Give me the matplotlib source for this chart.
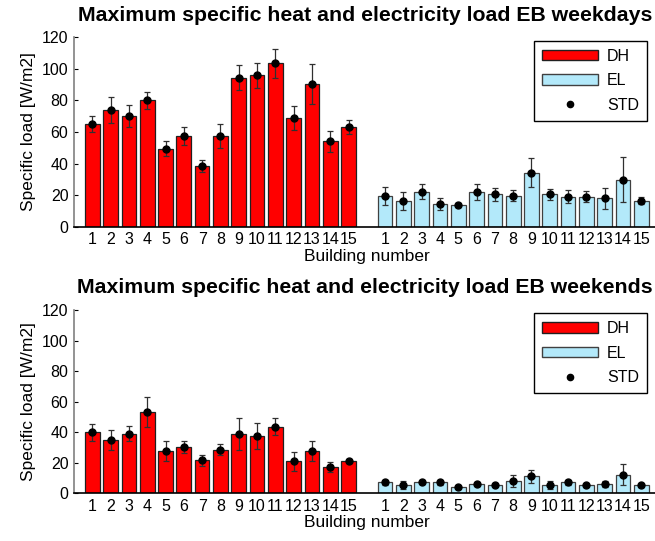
import numpy as np
import matplotlib.pyplot as plt
from matplotlib.patches import Patch
from matplotlib.lines import Line2D

plt.rcParams['font.family'] = ['Liberation Sans', 'DejaVu Sans']

buildings = list(range(1, 16))

# weekdays
dh_wd = [65, 74, 70, 80, 49.5, 57.5, 38.5, 57.5, 94.5, 96, 103.5, 69, 90.5, 54, 63]
dh_wd_std = [5, 8, 7, 5.5, 5, 5.5, 4, 7.5, 8, 8, 9, 7.5, 12.5, 6.5, 4.5]
el_wd = [19.5, 16.3, 22.2, 14.6, 13.8, 22.2, 20.5, 19.7, 34.3, 20.5, 19, 19, 18, 29.8, 16.5]
el_wd_std = [5.8, 5.7, 4.8, 3.8, 1.5, 5, 4.3, 3.5, 9.3, 3.3, 4, 3.6, 6.5, 14.4, 2.2]

# weekends
dh_we = [40, 35, 39, 53.3, 28, 30.4, 21.7, 28.7, 39.1, 37.4, 43.7, 21.1, 27.8, 17.4, 20.9]
dh_we_std = [5.6, 6.6, 4.9, 9.6, 6.6, 4, 3.6, 3.3, 10.4, 8.4, 5.4, 6.3, 6.7, 3.2, 1.3]
el_we = [7.2, 5.4, 7.2, 7.2, 4.3, 6.3, 5.4, 8, 11.3, 5.4, 7.2, 5.4, 6.3, 12.2, 5.4]
el_we_std = [1.5, 2.7, 1.3, 1.5, 0.7, 1.3, 0.8, 4.1, 4.2, 2.7, 1.8, 1, 1.8, 7, 1]

red = '#ff0000'
blue = '#b3e9fa'

x_dh = np.array(buildings)
x_el = np.array(buildings) + 16

fig = plt.figure(figsize=(6.55, 5.41), dpi=100)
ax1 = fig.add_axes([0.113, 0.581, 0.894, 0.350])
ax2 = fig.add_axes([0.113, 0.088, 0.894, 0.339])


def panel(ax, dh, dh_s, el, el_s, title):
    ax.bar(x_dh, dh, width=0.8, color=red, edgecolor='#202020', linewidth=0.9)
    ax.bar(x_el, el, width=0.8, color=blue, edgecolor='#404040', linewidth=0.9)
    for xx, v, s in [(x_dh, dh, dh_s), (x_el, el, el_s)]:
        ax.errorbar(xx, v, yerr=s, fmt='o', color='black', ecolor='#303030',
                    elinewidth=0.9, capsize=2.5, capthick=0.9, markersize=5)
    ax.set_xlim(0, 32)
    ax.set_ylim(0, 120)
    ax.set_yticks(range(0, 121, 20))
    ax.set_xticks(list(x_dh) + list(x_el))
    ax.set_xticklabels([str(b) for b in buildings] * 2)
    ax.tick_params(axis='x', length=0, labelsize=11.5, pad=4)
    ax.tick_params(axis='y', direction='in', length=3, labelsize=11.5, colors='black', pad=4)
    ax.spines['top'].set_visible(False)
    ax.spines['right'].set_visible(False)
    ax.spines['left'].set_color('#808080')
    ax.spines['left'].set_linewidth(1.2)
    ax.spines['bottom'].set_linewidth(1.2)
    ax.set_ylabel('Specific load [W/m2]', fontsize=12.5, labelpad=4)
    ax.set_xlabel('Building number', fontsize=12.5, labelpad=1)
    ax.set_title(title, fontsize=15.3, fontweight='bold', pad=12, x=0.497)
    handles = [Patch(facecolor=red, edgecolor='#202020', label='DH'),
               Patch(facecolor=blue, edgecolor='#404040', label='EL'),
               Line2D([], [], marker='o', color='black', linestyle='none',
                      markersize=4.5, label='STD')]
    leg = ax.legend(handles=handles, loc='upper right', bbox_to_anchor=(0.984, 1.0),
                    fancybox=False, edgecolor='black', framealpha=1,
                    fontsize=11.5, handlelength=3.5, handleheight=0.6,
                    borderpad=0.5, labelspacing=0.6, handletextpad=0.55,
                    borderaxespad=0.2)
    leg.get_frame().set_linewidth(1.0)


panel(ax1, dh_wd, dh_wd_std, el_wd, el_wd_std,
      'Maximum specific heat and electricity load EB weekdays')
panel(ax2, dh_we, dh_we_std, el_we, el_we_std,
      'Maximum specific heat and electricity load EB weekends')

fig.savefig('out.png', dpi=100)
